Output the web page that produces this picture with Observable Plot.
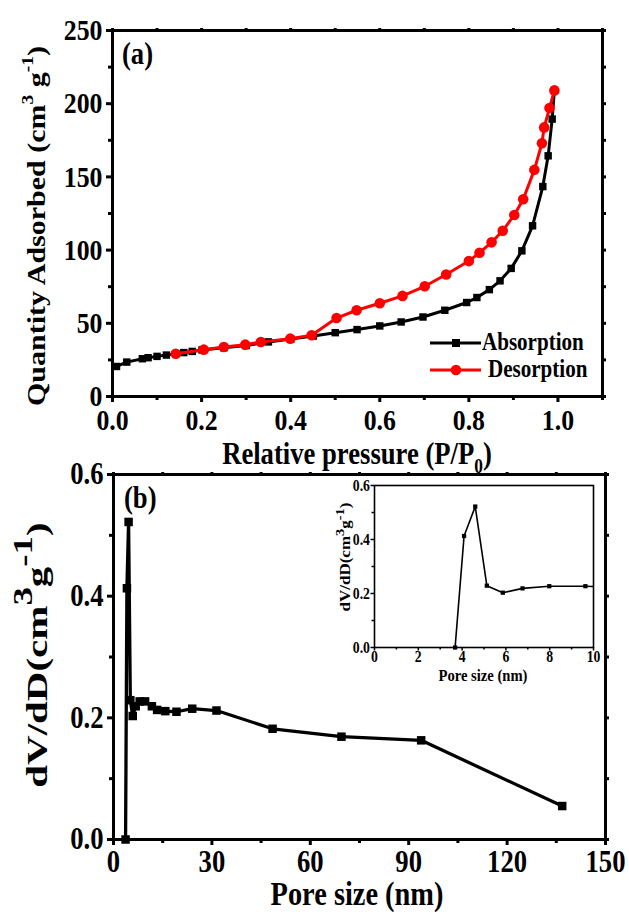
<!DOCTYPE html>
<html><head><meta charset="utf-8">
<script src="https://cdn.jsdelivr.net/npm/d3@7"></script>
<script src="https://cdn.jsdelivr.net/npm/@observablehq/plot@0.6"></script>
<style>
body{margin:0;background:#fff;}
#wrap{position:relative;width:629px;height:914px;overflow:hidden;background:#fff;}
#wrap svg{position:absolute;overflow:visible;background:transparent;}
</style></head><body><div id="wrap"></div>
<script>
// ---------- Panel (a) data: N2 isotherm ----------
const absP = [0.009,0.032,0.067,0.080,0.100,0.121,0.142,0.160,0.179,0.201,0.250,0.300,0.350,0.400,0.451,0.500,0.549,0.600,0.648,0.697,0.746,0.795,0.818,0.846,0.870,0.895,0.919,0.943,0.966,0.978,0.987,0.992];
const absQ = [20.5,23.5,25.8,26.5,27.4,28.3,29.2,30.0,30.8,31.8,33.3,34.8,37.3,39.2,41.3,43.6,45.7,48.2,50.9,54.3,58.9,64.2,67.6,73.0,79.0,87.5,99.5,116.6,143.4,164.4,189.5,209.1];
const desP = [0.992,0.981,0.969,0.964,0.947,0.922,0.902,0.876,0.851,0.824,0.800,0.749,0.701,0.651,0.600,0.548,0.503,0.447,0.399,0.333,0.298,0.250,0.205,0.142];
const desQ = [209.1,197.0,183.8,173.0,154.8,134.7,124.0,113.2,105.3,98.2,92.5,83.3,75.3,68.7,63.7,58.9,53.6,41.8,39.5,37.2,35.4,33.8,32.0,29.2];
const xMajorA = [0,0.2,0.4,0.6,0.8,1.0];
const xMinorA = [0.1,0.3,0.5,0.7,0.9,1.1];
const yMajorA = [0,50,100,150,200,250];
const yMinorA = [25,75,125,175,225];
const seriesNames = ["Absorption","Desorption"];

// ---------- Panel (b) data: pore size distribution ----------
const poreD = [3.68,4.09,4.60,5.13,5.86,6.76,7.98,9.63,11.7,13.3,15.8,19.2,24.0,31.4,48.5,69.5,93.8,136.8];
const poreV = [0.0,0.413,0.522,0.229,0.203,0.219,0.227,0.227,0.219,0.213,0.211,0.210,0.215,0.212,0.182,0.169,0.163,0.055];
const xMajorB = [0,30,60,90,120,150];
const xMinorB = [15,45,75,105,135];
const yMajorB = [0,0.2,0.4,0.6];
const yMinorB = [0.1,0.3,0.5];
const xMajorIn = [0,2,4,6,8,10];
const xMinorIn = [1,3,5,7,9];

const FONT = '"Liberation Serif","Times New Roman",serif';
const SQ = 0.86; // horizontal condensing of the original lettering
const wrap = document.getElementById("wrap");
const none = () => "";

function rich(sel, parts, size, sc, up) {
  let off = 0;
  parts.forEach(([t, k]) => {
    const fs = k ? size * sc : size;
    const target = k === 1 ? -size * up : k === -1 ? size * 0.3 : 0;
    sel.append("tspan").attr("font-size", fs).attr("dy", target - off).text(t);
    off = target;
  });
}
function place(svg, left, top) {
  svg.style.left = left + "px";
  svg.style.top = top + "px";
  wrap.appendChild(svg);
  return d3.select(svg);
}
function txt(sel, x, y, size, anchor, s) {
  return sel.append("text").attr("x", x).attr("y", y).attr("font-size", size)
    .attr("text-anchor", anchor).attr("font-family", FONT).attr("font-weight", "bold").attr("fill", "#000").text(s);
}
function condense(svg) {
  svg.querySelectorAll("text").forEach(el => {
    if (el.classList.contains("rot") || !el.textContent) return;
    const b = el.getBBox();
    const a = getComputedStyle(el).textAnchor;
    const px = a === "end" ? b.x + b.width : a === "middle" ? b.x + b.width / 2 : b.x;
    const t = el.getAttribute("transform") || "";
    el.setAttribute("transform", `${t} translate(${px},0) scale(${SQ},1) translate(${-px},0)`);
  });
}
function axes(o) {
  return [
    Plot.axisX({ticks: o.xMinor, tickSize: o.minor, tickFormat: none, strokeWidth: o.sw, label: null}),
    Plot.axisX({ticks: o.xMajor, tickSize: o.major, tickPadding: o.xpad, tickFormat: o.xf, fontSize: o.fs, fontWeight: "bold", fontFamily: FONT, strokeWidth: o.sw, label: null}),
    Plot.axisY({ticks: o.yMinor, tickSize: o.minor, tickFormat: none, strokeWidth: o.sw, label: null}),
    Plot.axisY({ticks: o.yMajor, tickSize: o.major, tickPadding: o.pad, tickFormat: o.yf, fontSize: o.fs, fontWeight: "bold", fontFamily: FONT, strokeWidth: o.sw, label: null}),
    ...(o.mirror ? [
      Plot.axisX({anchor: "top", ticks: o.xMajor.concat(o.xMinor), tickSize: o.mirror, tickFormat: none, strokeWidth: o.sw, label: null}),
      Plot.axisY({anchor: "right", ticks: o.yMajor.concat(o.yMinor), tickSize: o.mirror, tickFormat: none, strokeWidth: o.sw, label: null})
    ] : [])
  ];
}

// ---------- Plot (a) ----------
const absData = absP.map((p, i) => ({p, q: absQ[i]}));
const desData = desP.map((p, i) => ({p, q: desQ[i]}));
const plotA = Plot.plot({
  width: 629, height: 470,
  marginLeft: 112, marginRight: 27, marginTop: 30, marginBottom: 74,
  x: {domain: [0, 1.1]}, y: {domain: [0, 250]},
  style: {fontFamily: FONT, fontWeight: "bold", background: "transparent"},
  marks: [
    ...axes({xMajor: xMajorA, xMinor: xMinorA, yMajor: yMajorA, yMinor: yMinorA, major: 6, minor: 4, mirror: 3, pad: 4, xpad: 6, sw: 3, fs: 30,
      xf: d3.format(".1f"), yf: d3.format("d")}),
    Plot.line(absData, {x: "p", y: "q", stroke: "#000", strokeWidth: 3}),
    Plot.dot(absData, {x: "p", y: "q", symbol: "square", fill: "#000", r: 4.2}),
    Plot.line(desData, {x: "p", y: "q", stroke: "#ff0000", strokeWidth: 3}),
    Plot.dot(desData, {x: "p", y: "q", symbol: "circle", fill: "#ff0000", r: 5.3}),
    Plot.frame({stroke: "#000", strokeWidth: 3})
  ]
});
const sa = place(plotA, 0, 0);
txt(sa, 122, 64, 31, "start", "(a)");
rich(sa.append("text").attr("class", "rot").attr("transform", "translate(45,226) rotate(-90) scale(1,0.86)").attr("text-anchor", "middle")
  .attr("font-family", FONT).attr("font-weight", "bold"),
  [["Quantity Adsorbed (cm", 0], ["3", 1], [" g", 0], ["-1", 1], [")", 0]], 30, 0.65, 0.45);
rich(sa.append("text").attr("x", 357).attr("y", 464).attr("text-anchor", "middle")
  .attr("font-family", FONT).attr("font-weight", "bold"),
  [["Relative pressure (P/P", 0], ["0", -1], [")", 0]], 31, 0.65, 0.45);
// legend
const leg = sa.append("g");
[[seriesNames[0], "#000", "square", 343, 482], [seriesNames[1], "#ff0000", "circle", 370, 488]].forEach(([name, col, sym, y, tx]) => {
  leg.append("line").attr("x1", 430).attr("x2", 481).attr("y1", y).attr("y2", y).attr("stroke", col).attr("stroke-width", 3);
  if (sym === "square") leg.append("rect").attr("x", 452).attr("y", y - 4).attr("width", 8).attr("height", 8).attr("fill", col);
  else leg.append("circle").attr("cx", 456).attr("cy", y).attr("r", 5.3).attr("fill", col);
  txt(leg, tx, y + 7, 24.5, "start", name);
});
condense(plotA);

// ---------- Plot (b) ----------
const poreData = poreD.map((d, i) => ({d, v: poreV[i]}));
const plotB = Plot.plot({
  width: 629, height: 464,
  marginLeft: 113, marginRight: 24, marginTop: 24, marginBottom: 75,
  x: {domain: [0, 150]}, y: {domain: [0, 0.6]},
  style: {fontFamily: FONT, fontWeight: "bold", background: "transparent"},
  marks: [
    ...axes({xMajor: xMajorB, xMinor: xMinorB, yMajor: yMajorB, yMinor: yMinorB, major: 6, minor: 4, mirror: 3, pad: 4, xpad: 4, sw: 3, fs: 31,
      xf: d3.format("d"), yf: d3.format(".1f")}),
    Plot.line(poreData, {x: "d", y: "v", stroke: "#000", strokeWidth: 3.3}),
    Plot.dot(poreData, {x: "d", y: "v", symbol: "square", fill: "#000", r: 4.8}),
    Plot.frame({stroke: "#000", strokeWidth: 3})
  ]
});
const sb = place(plotB, 0, 450);
txt(sb, 124, 58, 31, "start", "(b)");
rich(sb.append("text").attr("class", "rot").attr("transform", "translate(47,205) rotate(-90) scale(1,0.74)").attr("text-anchor", "middle")
  .attr("font-family", FONT).attr("font-weight", "bold"),
  [["dV/dD(cm", 0], ["3", 1], ["g", 0], ["-1", 1], [")", 0]], 41, 0.9, 0.5);
txt(sb, 357, 455, 33, "middle", "Pore size (nm)");
condense(plotB);

// ---------- Inset ----------
const plotC = Plot.plot({
  width: 280, height: 220,
  marginLeft: 44, marginRight: 17, marginTop: 15, marginBottom: 43,
  x: {domain: [0, 10]}, y: {domain: [0, 0.6]},
  style: {fontFamily: FONT, fontWeight: "bold", background: "transparent"},
  marks: [
    Plot.frame({fill: "#fff", stroke: "none"}),
    ...axes({xMajor: xMajorIn, xMinor: xMinorIn, yMajor: yMajorB, yMinor: yMinorB, major: 3.5, minor: 2.5, mirror: 0, pad: 1, xpad: 0, sw: 1.5, fs: 16,
      xf: d3.format("d"), yf: d3.format(".1f")}),
    Plot.line(poreData, {x: "d", y: "v", stroke: "#000", strokeWidth: 1.6, clip: true}),
    Plot.dot(poreData.filter(p => p.d <= 10), {x: "d", y: "v", symbol: "square", fill: "#000", r: 2.4}),
    Plot.frame({stroke: "#000", strokeWidth: 1.6})
  ]
});
const sc = place(plotC, 330, 470);
rich(sc.append("text").attr("class", "rot").attr("transform", "translate(20,87) rotate(-90) scale(1,0.85)").attr("text-anchor", "middle")
  .attr("font-family", FONT).attr("font-weight", "bold"),
  [["dV/dD(cm", 0], ["3", 1], ["g", 0], ["-1", 1], [")", 0]], 17, 0.85, 0.45);
txt(sc, 153, 211, 17, "middle", "Pore size (nm)");
condense(plotC);
</script></body></html>
